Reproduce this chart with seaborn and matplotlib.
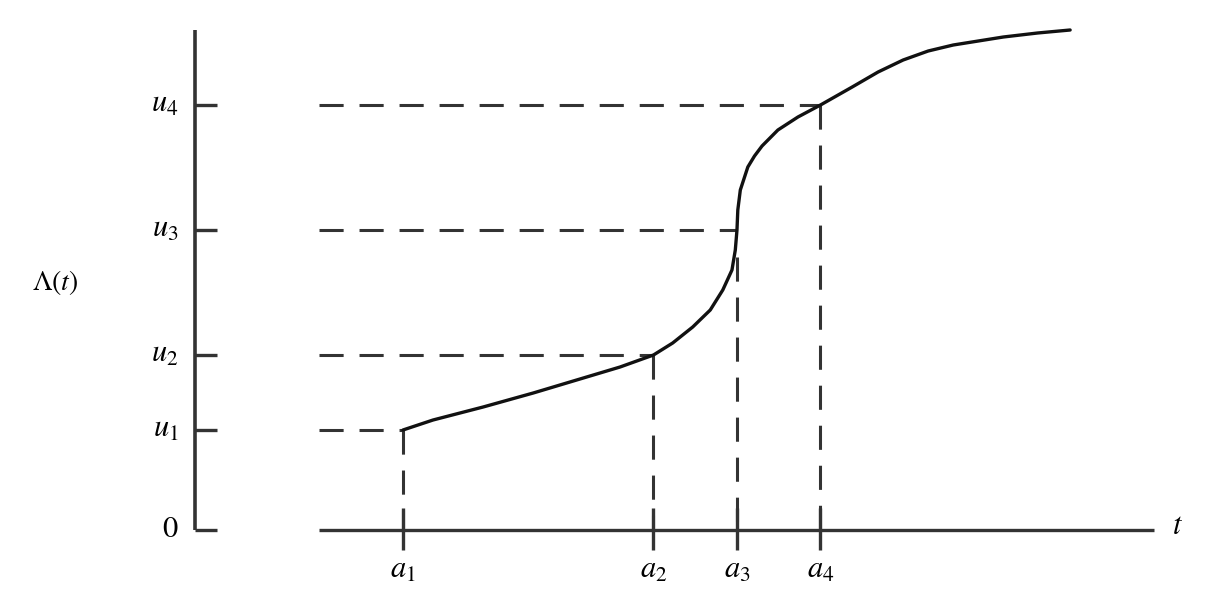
import matplotlib
matplotlib.use("Agg")
import matplotlib.pyplot as plt
import seaborn as sns
import pandas as pd

sns.set_theme(style="white")
plt.rcParams['mathtext.fontset'] = 'stix'
plt.rcParams['font.family'] = ['STIXGeneral', 'DejaVu Serif']

# curve Lambda(t)
curve_t = [1.0, 1.36, 1.96, 2.56, 3.16, 3.60, 4.0, 4.23, 4.47, 4.68, 4.83, 4.94,
           4.98, 5.0, 5.01, 5.04, 5.13, 5.21, 5.30, 5.49, 5.73, 6.0, 6.38, 6.69,
           6.99, 7.29, 7.59, 8.19, 8.60, 8.99]
curve_L = [1.0, 1.10, 1.23, 1.37, 1.52, 1.63, 1.75, 1.87, 2.03, 2.20, 2.40, 2.60,
           2.80, 3.00, 3.20, 3.40, 3.63, 3.74, 3.84, 4.00, 4.13, 4.25, 4.43, 4.58,
           4.70, 4.79, 4.85, 4.93, 4.97, 5.00]

# breakpoints and levels
a_vals = [1.0, 4.0, 5.0, 6.0]
a_labels = [r'$a_1$', r'$a_2$', r'$a_3$', r'$a_4$']
a_tops = [1.0, 1.75, 2.73, 4.25]
u_vals = [1.0, 1.75, 3.0, 4.25]
u_labels = [r'$u_1$', r'$u_2$', r'$u_3$', r'$u_4$']
u_ends = [1.0, 4.0, 5.0, 6.0]

fig = plt.figure(figsize=(12.07, 5.93), dpi=100)
ax = fig.add_axes([0, 0, 1, 1])

axis_col = '#333333'
dash = (0, (7.9, 5.2))

# y axis and its ticks
ax.plot([-1.49, -1.49], [0, 5.0], color=axis_col, lw=2.6, solid_capstyle='butt')
for u, lab in zip([0] + u_vals, ['$0$'] + u_labels):
    ax.plot([-1.49, -1.228], [u, u], color=axis_col, lw=2.4, solid_capstyle='butt')
    ax.text(-1.69, u, lab, ha='right', va='center', fontsize=22, color='black')

# x axis and its ticks
ax.plot([0, 10], [0, 0], color=axis_col, lw=2.4, solid_capstyle='butt')
for a, lab in zip(a_vals, a_labels):
    ax.plot([a, a], [-0.20, 0.22], color=axis_col, lw=2.4, solid_capstyle='butt')
    ax.text(a, -0.27, lab, ha='center', va='top', fontsize=22, color='black')
ax.text(10.27, 0.03, r'$t$', ha='center', va='center', fontsize=22, color='black')
ax.text(-3.16, 2.47, r'$\Lambda(t)$', ha='center', va='center', fontsize=20, color='black')

# dashed guides
for u, e in zip(u_vals, u_ends):
    ax.plot([0, e], [u, u], color=axis_col, lw=2.2, linestyle=dash)
for a, top in zip(a_vals, a_tops):
    ax.plot([a, a], [top, 0], color=axis_col, lw=2.2, linestyle=dash)

df = pd.DataFrame({'t': curve_t, 'L': curve_L})
sns.lineplot(data=df, x='t', y='L', sort=False, estimator=None, color='#111111',
             lw=2.4, ax=ax)
ax.lines[-1].set_solid_joinstyle('round')
ax.set_xlim(-3.826, 10.629)
ax.set_ylim(-0.63, 5.30)
ax.axis('off')

fig.savefig('out.png', dpi=100)
